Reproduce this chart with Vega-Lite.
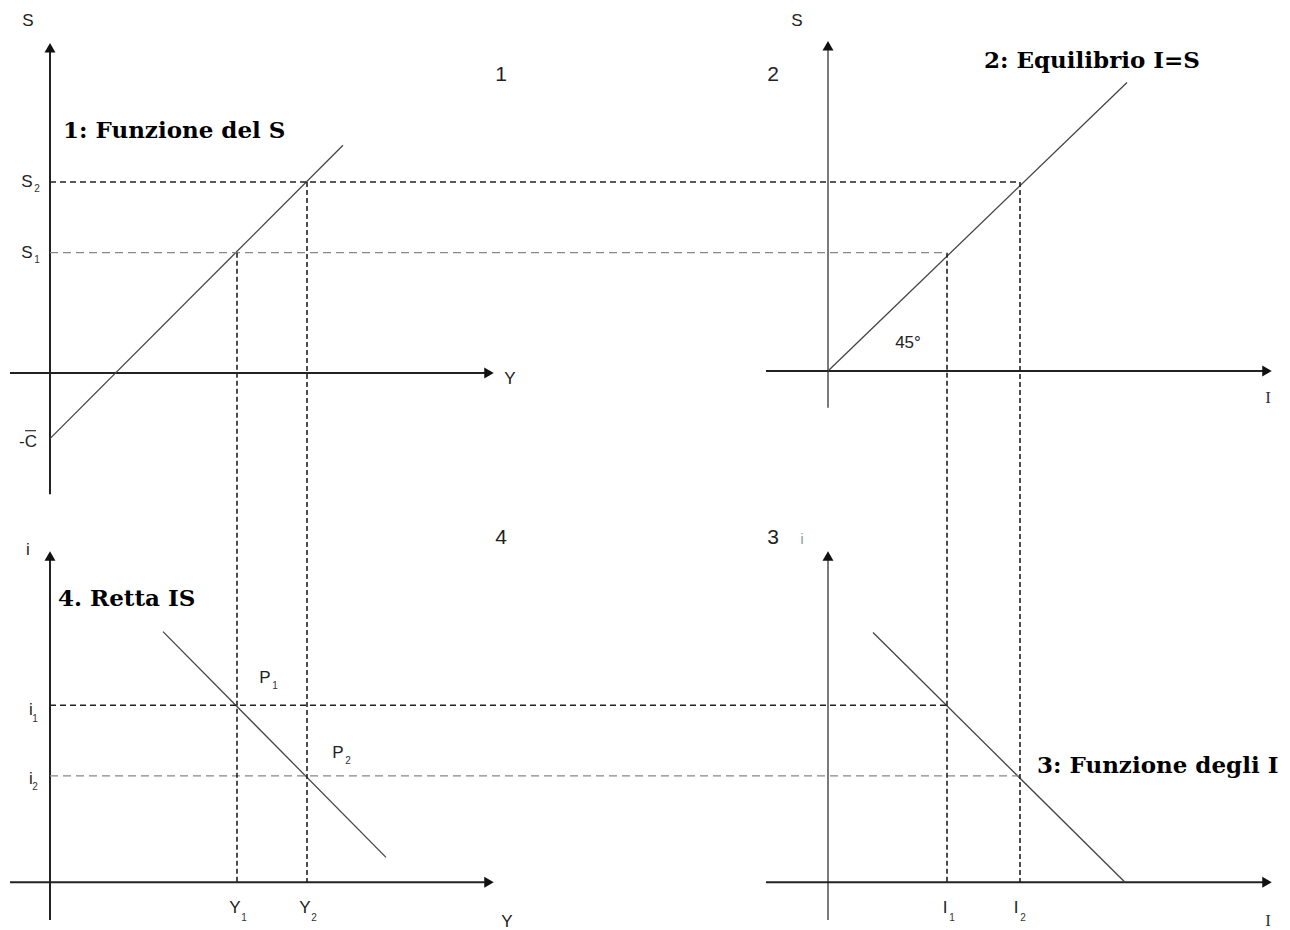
{
  "$schema": "https://vega.github.io/schema/vega-lite/v6.json",
  "width": 1290,
  "height": 930,
  "autosize": {"type": "fit", "contains": "padding"},
  "padding": 0,
  "background": "white",
  "config": {"view": {"stroke": null}},
  "datasets": {
    "segments": [
      {"kind": "axis", "x": 50, "y": 52, "x2": 50, "y2": 497},
      {"kind": "axis", "x": 10, "y": 375, "x2": 488, "y2": 375},
      {"kind": "axisthin", "x": 828, "y": 50, "x2": 828, "y2": 410},
      {"kind": "axis", "x": 766, "y": 373, "x2": 1265, "y2": 373},
      {"kind": "axis", "x": 50, "y": 563, "x2": 50, "y2": 925},
      {"kind": "axis", "x": 10, "y": 887, "x2": 488, "y2": 887},
      {"kind": "axisthin", "x": 828, "y": 563, "x2": 828, "y2": 925},
      {"kind": "axis", "x": 766, "y": 887, "x2": 1265, "y2": 887},
      {"kind": "curve", "x": 50, "y": 441, "x2": 343, "y2": 146},
      {"kind": "curve", "x": 828, "y": 373, "x2": 1127, "y2": 83},
      {"kind": "curve", "x": 163, "y": 635, "x2": 386, "y2": 862},
      {"kind": "curve", "x": 873, "y": 636, "x2": 1125, "y2": 887},
      {"kind": "darkh", "x": 50, "y": 183, "x2": 1020, "y2": 183},
      {"kind": "darkh", "x": 50, "y": 709, "x2": 947, "y2": 709},
      {"kind": "lighth", "x": 50, "y": 254, "x2": 947, "y2": 254},
      {"kind": "lighth", "x": 50, "y": 780, "x2": 1020, "y2": 780},
      {"kind": "darkv", "x": 237, "y": 254, "x2": 237, "y2": 887},
      {"kind": "darkv", "x": 307, "y": 183, "x2": 307, "y2": 887},
      {"kind": "darkv", "x": 947, "y": 254, "x2": 947, "y2": 887},
      {"kind": "darkv", "x": 1020, "y": 183, "x2": 1020, "y2": 887},
      {"kind": "overline", "x": 25, "y": 433, "x2": 36, "y2": 433}
    ],
    "arrows": [
      {"dir": "up", "x": 50, "y": 48},
      {"dir": "up", "x": 828, "y": 46},
      {"dir": "up", "x": 50, "y": 559},
      {"dir": "up", "x": 828, "y": 559},
      {"dir": "right", "x": 489, "y": 375},
      {"dir": "right", "x": 1267, "y": 373},
      {"dir": "right", "x": 489, "y": 887},
      {"dir": "right", "x": 1267, "y": 887}
    ],
    "labels": [
      {"kind": "main", "t": "S", "x": 28, "y": 21},
      {"kind": "main", "t": "S", "x": 797, "y": 21},
      {"kind": "main", "t": "S", "x": 27, "y": 183},
      {"kind": "sub", "t": "2", "x": 37, "y": 190},
      {"kind": "main", "t": "S", "x": 27, "y": 254},
      {"kind": "sub", "t": "1", "x": 37, "y": 261},
      {"kind": "main", "t": "-C", "x": 28, "y": 444},
      {"kind": "main", "t": "Y", "x": 510, "y": 381},
      {"kind": "main", "t": "45°", "x": 908, "y": 345},
      {"kind": "main", "t": "i", "x": 28, "y": 553},
      {"kind": "main", "t": "i", "x": 31, "y": 714},
      {"kind": "sub", "t": "1", "x": 35, "y": 723},
      {"kind": "main", "t": "i", "x": 31, "y": 783},
      {"kind": "sub", "t": "2", "x": 35, "y": 791},
      {"kind": "main", "t": "P", "x": 265, "y": 682},
      {"kind": "sub", "t": "1", "x": 275, "y": 690},
      {"kind": "main", "t": "P", "x": 338, "y": 757},
      {"kind": "sub", "t": "2", "x": 348, "y": 765},
      {"kind": "main", "t": "Y", "x": 235, "y": 913},
      {"kind": "sub", "t": "1", "x": 244, "y": 923},
      {"kind": "main", "t": "Y", "x": 305, "y": 913},
      {"kind": "sub", "t": "2", "x": 314, "y": 923},
      {"kind": "main", "t": "Y", "x": 507, "y": 927},
      {"kind": "main", "t": "I", "x": 945, "y": 913},
      {"kind": "sub", "t": "1", "x": 952, "y": 923},
      {"kind": "main", "t": "I", "x": 1016, "y": 913},
      {"kind": "sub", "t": "2", "x": 1023, "y": 923},
      {"kind": "num", "t": "1", "x": 501, "y": 75},
      {"kind": "num", "t": "2", "x": 773, "y": 75},
      {"kind": "num", "t": "4", "x": 501, "y": 541},
      {"kind": "num", "t": "3", "x": 773, "y": 541},
      {"kind": "faint", "t": "i", "x": 802, "y": 543},
      {"kind": "serif", "t": "I", "x": 1268, "y": 400},
      {"kind": "serif", "t": "I", "x": 1268, "y": 926}
    ],
    "titles": [
      {"t": "1: Funzione del S", "x": 63, "y": 132},
      {"t": "2: Equilibrio I=S", "x": 984, "y": 61},
      {"t": "4. Retta IS", "x": 58, "y": 602},
      {"t": "3: Funzione degli I", "x": 1037, "y": 770}
    ]
  },
  "layer": [
    {
      "data": {"name": "segments"},
      "transform": [{"filter": "datum.kind === 'axis'"}],
      "mark": {"type": "rule", "stroke": "#222", "strokeWidth": 2},
      "encoding": {
        "x": {"field": "x", "type": "quantitative", "scale": {"domain": [0, 1290], "nice": false, "zero": false}, "axis": null},
        "y": {"field": "y", "type": "quantitative", "scale": {"domain": [0, 930], "nice": false, "zero": false, "reverse": true}, "axis": null},
        "x2": {"field": "x2"},
        "y2": {"field": "y2"}
      }
    },
    {
      "data": {"name": "segments"},
      "transform": [{"filter": "datum.kind === 'axisthin'"}],
      "mark": {"type": "rule", "stroke": "#222", "strokeWidth": 1.2},
      "encoding": {
        "x": {"field": "x", "type": "quantitative", "axis": null},
        "y": {"field": "y", "type": "quantitative", "axis": null},
        "x2": {"field": "x2"},
        "y2": {"field": "y2"}
      }
    },
    {
      "data": {"name": "segments"},
      "transform": [{"filter": "datum.kind === 'curve' || datum.kind === 'overline'"}],
      "mark": {"type": "rule", "stroke": "#444", "strokeWidth": 1.3},
      "encoding": {
        "x": {"field": "x", "type": "quantitative", "axis": null},
        "y": {"field": "y", "type": "quantitative", "axis": null},
        "x2": {"field": "x2"},
        "y2": {"field": "y2"}
      }
    },
    {
      "data": {"name": "segments"},
      "transform": [{"filter": "datum.kind === 'darkh'"}],
      "mark": {"type": "rule", "stroke": "#222", "strokeWidth": 1.5, "strokeDash": [6, 4]},
      "encoding": {
        "x": {"field": "x", "type": "quantitative", "axis": null},
        "y": {"field": "y", "type": "quantitative", "axis": null},
        "x2": {"field": "x2"},
        "y2": {"field": "y2"}
      }
    },
    {
      "data": {"name": "segments"},
      "transform": [{"filter": "datum.kind === 'lighth'"}],
      "mark": {"type": "rule", "stroke": "#888", "strokeWidth": 1.2, "strokeDash": [8, 5]},
      "encoding": {
        "x": {"field": "x", "type": "quantitative", "axis": null},
        "y": {"field": "y", "type": "quantitative", "axis": null},
        "x2": {"field": "x2"},
        "y2": {"field": "y2"}
      }
    },
    {
      "data": {"name": "segments"},
      "transform": [{"filter": "datum.kind === 'darkv'"}],
      "mark": {"type": "rule", "stroke": "#222", "strokeWidth": 1.6, "strokeDash": [5, 3]},
      "encoding": {
        "x": {"field": "x", "type": "quantitative", "axis": null},
        "y": {"field": "y", "type": "quantitative", "axis": null},
        "x2": {"field": "x2"},
        "y2": {"field": "y2"}
      }
    },
    {
      "data": {"name": "arrows"},
      "transform": [{"filter": "datum.dir === 'up'"}],
      "mark": {"type": "point", "shape": "triangle-up", "filled": true, "fill": "#111", "stroke": null, "size": 120, "opacity": 1},
      "encoding": {
        "x": {"field": "x", "type": "quantitative", "axis": null},
        "y": {"field": "y", "type": "quantitative", "axis": null}
      }
    },
    {
      "data": {"name": "arrows"},
      "transform": [{"filter": "datum.dir === 'right'"}],
      "mark": {"type": "point", "shape": "triangle-right", "filled": true, "fill": "#111", "stroke": null, "size": 120, "opacity": 1},
      "encoding": {
        "x": {"field": "x", "type": "quantitative", "axis": null},
        "y": {"field": "y", "type": "quantitative", "axis": null}
      }
    },
    {
      "data": {"name": "labels"},
      "transform": [{"filter": "datum.kind === 'main'"}],
      "mark": {"type": "text", "font": "Liberation Sans", "fontSize": 17, "fill": "#222", "align": "center", "baseline": "middle"},
      "encoding": {
        "x": {"field": "x", "type": "quantitative", "axis": null},
        "y": {"field": "y", "type": "quantitative", "axis": null},
        "text": {"field": "t"}
      }
    },
    {
      "data": {"name": "labels"},
      "transform": [{"filter": "datum.kind === 'sub'"}],
      "mark": {"type": "text", "font": "Liberation Sans", "fontSize": 10, "fill": "#333", "align": "center", "baseline": "middle"},
      "encoding": {
        "x": {"field": "x", "type": "quantitative", "axis": null},
        "y": {"field": "y", "type": "quantitative", "axis": null},
        "text": {"field": "t"}
      }
    },
    {
      "data": {"name": "labels"},
      "transform": [{"filter": "datum.kind === 'num'"}],
      "mark": {"type": "text", "font": "Liberation Sans", "fontSize": 21, "fill": "#222", "align": "center", "baseline": "middle"},
      "encoding": {
        "x": {"field": "x", "type": "quantitative", "axis": null},
        "y": {"field": "y", "type": "quantitative", "axis": null},
        "text": {"field": "t"}
      }
    },
    {
      "data": {"name": "labels"},
      "transform": [{"filter": "datum.kind === 'faint'"}],
      "mark": {"type": "text", "font": "Liberation Sans", "fontSize": 14, "fill": "#8a93a0", "align": "center", "baseline": "middle"},
      "encoding": {
        "x": {"field": "x", "type": "quantitative", "axis": null},
        "y": {"field": "y", "type": "quantitative", "axis": null},
        "text": {"field": "t"}
      }
    },
    {
      "data": {"name": "labels"},
      "transform": [{"filter": "datum.kind === 'serif'"}],
      "mark": {"type": "text", "font": "Liberation Serif", "fontSize": 17, "fill": "#333", "align": "center", "baseline": "middle"},
      "encoding": {
        "x": {"field": "x", "type": "quantitative", "axis": null},
        "y": {"field": "y", "type": "quantitative", "axis": null},
        "text": {"field": "t"}
      }
    },
    {
      "data": {"name": "titles"},
      "mark": {"type": "text", "font": "DejaVu Serif", "fontSize": 23, "fontWeight": 900, "fill": "#000", "align": "left", "baseline": "middle"},
      "encoding": {
        "x": {"field": "x", "type": "quantitative", "axis": null},
        "y": {"field": "y", "type": "quantitative", "axis": null},
        "text": {"field": "t"}
      }
    }
  ]
}
